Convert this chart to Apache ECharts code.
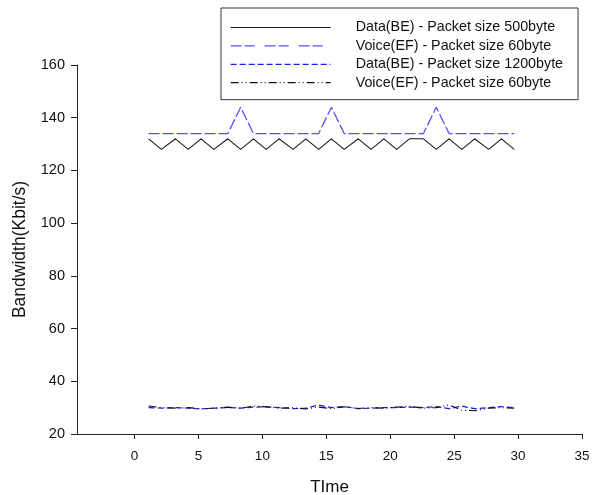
<!DOCTYPE html>
<html>
<head>
<meta charset="utf-8">
<script src="https://cdn.jsdelivr.net/npm/echarts@6/dist/echarts.min.js"></script>
<style>html,body{margin:0;padding:0;background:#fff}#c{width:593px;height:495px}</style>
</head>
<body>
<div id="c"></div>
<script>
var seriesNames = [
  'Data(BE) - Packet size 500byte',
  'Voice(EF) - Packet size 60byte',
  'Data(BE) - Packet size 1200byte',
  'Voice(EF) - Packet size 60byte '
];
var time = [1.1, 2.1, 3.2, 4.2, 5.2, 6.2, 7.3, 8.3, 9.3, 10.3, 11.3, 12.4, 13.4, 14.4, 15.4, 16.4, 17.5, 18.5, 19.5, 20.5, 21.5, 22.6, 23.6, 24.6, 25.6, 26.6, 27.7, 28.7, 29.7];
var dataBE500 = [132, 128, 132, 128, 132, 128, 132, 128, 132, 128, 132, 128, 132, 128, 132, 128, 132, 128, 132, 128, 132, 132, 128, 132, 128, 132, 128, 132, 128];
var voiceEF60a = [134, 134, 134, 134, 134, 134, 134, 144, 134, 134, 134, 134, 134, 134, 144, 134, 134, 134, 134, 134, 134, 134, 144, 134, 134, 134, 134, 134, 134];
var dataBE1200 = [30.0, 29.8, 30.0, 29.8, 29.5, 29.8, 30.0, 29.8, 30.2, 30.3, 30.0, 29.6, 29.8, 31.0, 30.0, 30.4, 29.6, 29.8, 30.0, 30.0, 30.2, 30.0, 30.4, 29.6, 30.6, 29.6, 30.0, 30.4, 30.0];
var voiceEF60b = [30.6, 30.0, 29.8, 30.0, 29.6, 29.8, 30.2, 29.8, 30.6, 30.3, 29.8, 30.0, 29.5, 30.2, 29.6, 30.3, 29.7, 30.0, 29.8, 30.2, 30.5, 29.8, 30.0, 31.0, 29.0, 28.8, 29.8, 30.0, 29.8];
var xTicks = [0, 5, 10, 15, 20, 25, 30, 35];
var yTicks = [20, 40, 60, 80, 100, 120, 140, 160];

function pairs(ys) { return time.map(function (t, i) { return [t, ys[i]]; }); }

var FONT = '"Liberation Sans", Arial, sans-serif';
var chart = echarts.init(document.getElementById('c'));
var lineSeries = [
  { name: seriesNames[0], data: pairs(dataBE500), color: '#1a1a1a', type: 'solid', width: 1.1 },
  { name: seriesNames[1], data: pairs(voiceEF60a), color: '#5252ff', type: [11, 3], width: 1.3 },
  { name: seriesNames[2], data: pairs(dataBE1200), color: '#1c1ce6', type: [6, 3], width: 1.2 },
  { name: seriesNames[3], data: pairs(voiceEF60b), color: '#111111', type: [8, 3, 1, 3, 1, 3], width: 1.1 }
];
chart.setOption({
  animation: false,
  backgroundColor: '#fff',
  grid: { left: 77, right: 11, top: 65, bottom: 61, containLabel: false, outerBoundsMode: 'none' },
  legend: {
    orient: 'vertical',
    left: 221,
    top: 8,
    padding: [12.5, 15, 10, 9],
    itemGap: 4.4,
    itemWidth: 100,
    itemHeight: 12,
    borderColor: '#333',
    borderWidth: 1,
    backgroundColor: '#fff',
    itemStyle: { opacity: 0 },
    lineStyle: { width: 1.2 },
    textStyle: { fontFamily: FONT, fontSize: 14.3, lineHeight: 14, color: '#111', padding: [0, 0, 0, 20] },
    data: seriesNames.map(function (n, i) {
      return i === 1 ? { name: n, lineStyle: { width: 1.3, type: [11, 3, 10, 10] } } : { name: n };
    })
  },
  xAxis: {
    type: 'value',
    min: -4.5,
    max: 35,
    name: 'TIme',
    nameLocation: 'middle',
    nameGap: 45,
    nameTextStyle: { fontFamily: FONT, fontSize: 17, color: '#111' },
    splitLine: { show: false },
    axisLine: { onZero: false, lineStyle: { color: '#222', width: 1 } },
    axisTick: { show: true, length: 5, lineStyle: { color: '#222' }, customValues: xTicks },
    axisLabel: { fontFamily: FONT, fontSize: 13.5, color: '#111', margin: 15, customValues: xTicks }
  },
  yAxis: {
    type: 'value',
    min: 20,
    max: 160,
    interval: 20,
    name: 'Bandwidth(Kbit/s)',
    nameLocation: 'middle',
    nameGap: 48,
    nameTextStyle: { fontFamily: FONT, fontSize: 17.5, color: '#111' },
    splitLine: { show: false },
    axisLine: { show: true, onZero: false, lineStyle: { color: '#222', width: 1 } },
    axisTick: { show: true, length: 6, lineStyle: { color: '#222' } },
    axisLabel: { fontFamily: FONT, fontSize: 14.5, color: '#111', margin: 12,
      formatter: function (v) { return yTicks.indexOf(v) >= 0 ? String(v) : ''; } }
  },
  series: lineSeries.map(function (s) {
    return {
      name: s.name,
      type: 'line',
      data: s.data,
      symbol: 'none',
      showSymbol: false,
      color: s.color,
      lineStyle: { color: s.color, width: s.width, type: s.type },
      emphasis: { disabled: true }
    };
  })
});
</script>
</body>
</html>
